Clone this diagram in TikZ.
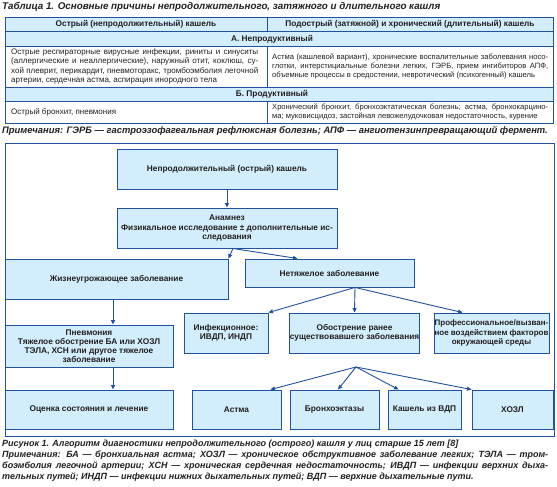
\documentclass[tikz,border=0pt]{standalone}
\usepackage{fontspec}
\setmainfont{Liberation Sans}
\usetikzlibrary{arrows.meta,calc}
\definecolor{bfill}{RGB}{210,237,251}
\definecolor{bline}{RGB}{32,82,160}
\definecolor{tcol}{RGB}{35,31,32}
\newcommand\ff{\fontsize{8}{9.2}\selectfont}
\newcommand\fr{\fontsize{7.6}{9.2}\selectfont}
\newcommand\fb{\fontsize{8.3}{9.2}\selectfont\bfseries}
\newcommand\fbs{\fontsize{8}{9.2}\selectfont\bfseries}
\newcommand\fc{\fontsize{9}{11}\selectfont\bfseries\itshape}
\newcommand\ft{\fontsize{9.8}{11}\selectfont\bfseries\itshape}
\newcommand\fn{\fontsize{9.4}{11}\selectfont\bfseries\itshape}
\newcommand\jl[2]{\makebox[#1][s]{#2}}
\begin{document}
\begin{tikzpicture}[x=1pt,y=-1pt,
  fbox/.style={draw=bline,fill=bfill,line width=0.9pt,inner sep=0pt,align=center,text=tcol,font=\fb},
  arr/.style={draw=bline,line width=0.9pt,-{Triangle[length=4.5pt,width=4pt]}},
  tline/.style={draw=bline,line width=0.8pt},
  ttext/.style={inner sep=0pt,text=tcol,font=\ff,align=left},
  thead/.style={inner sep=0pt,text=tcol,font=\fb},
  ctext/.style={inner sep=0pt,text=tcol,font=\fc,align=left}]
\useasboundingbox (0,0) rectangle (557,487);
\fill[white] (0,0) rectangle (557,487);
% ---------- table ----------
\node[ctext,font=\ft,anchor=west] (ttl) at (2,7) {Таблица 1. Основные причины непродолжительного, затяжного и длительного кашля};
\fill[bfill] (5,17) rectangle (553,46);
\fill[bfill] (5,87) rectangle (553,101);
\draw[tline] (5,17) rectangle (553,123);
\draw[tline] (5,31.5) -- (553,31.5) (5,46) -- (553,46) (5,87) -- (553,87) (5,101) -- (553,101);
\draw[tline] (267,17) -- (267,31.5) (267,46) -- (267,87) (267,101) -- (267,123);
\node[thead] (h1) at (136,24.2) {Острый (непродолжительный) кашель};
\node[thead] (h2) at (410,24.2) {Подострый (затяжной) и хронический (длительный) кашель};
\node[thead] (ra) at (272,38.8) {А. Непродуктивный};
\node[thead] (rb) at (272,94) {Б. Продуктивный};
\node[ttext,anchor=west] (ca1) at (11,66.5) {\jl{247pt}{Острые респираторные вирусные инфекции, риниты и синуситы}\\
\jl{247pt}{(аллергические и неаллергические), наружный отит, коклюш, су-}\\
\jl{247pt}{хой плеврит, перикардит, пневмоторакс, тромбоэмболия легочной}\\
артерии, сердечная астма, аспирация инородного тела};
\node[ttext,font=\fr,anchor=west] (ca2) at (272,66.5) {\jl{276pt}{Астма (кашлевой вариант), хронические воспалительные заболевания носо-}\\
\jl{276pt}{глотки, интерстициальные болезни легких, ГЭРБ, прием ингибиторов АПФ,}\\
объемные процессы в средостении, невротический (психогенный) кашель};
\node[ttext,anchor=west] (cb1) at (11,112) {Острый бронхит, пневмония};
\node[ttext,font=\fr,anchor=west] (cb2) at (272,112) {\jl{276pt}{Хронический бронхит, бронхоэктатическая болезнь; астма, бронхокарцино-}\\
ма; муковисцидоз, застойная левожелудочковая недостаточность, курение};
\node[ctext,font=\fn,anchor=west] (tnote) at (2,131) {Примечания: ГЭРБ — гастроэзофагеальная рефлюксная болезнь; АПФ — ангиотензинпревращающий фермент.};
% ---------- flowchart ----------
\draw[bline,line width=0.9pt] (5,143) rectangle (554,436);
\node[fbox,minimum width=220pt,minimum height=40pt] (b1) at (227,169) {Непродолжительный (острый) кашель};
\node[fbox,minimum width=220pt,minimum height=40pt] (b2) at (227,228) {Анамнез\\Физикальное исследование ± дополнительные ис-\\следования};
\node[fbox,minimum width=223pt,minimum height=40pt] (b3) at (116.5,279) {Жизнеугрожающее заболевание};
\node[fbox,minimum width=169pt,minimum height=28pt] (b4) at (329.5,273) {Нетяжелое заболевание};
\node[fbox,minimum width=168pt,minimum height=42pt] (b5) at (89,346) {Пневмония\\Тяжелое обострение БА или ХОЗЛ\\ТЭЛА, ХСН или другое тяжелое\\заболевание};
\node[fbox,minimum width=168pt,minimum height=39pt] (b6) at (89,409.5) {Оценка состояния и лечение};
\node[fbox,minimum width=84pt,minimum height=40pt] (b7) at (226,333) {Инфекционное:\\ИВДП, ИНДП};
\node[fbox,minimum width=127pt,minimum height=40pt] (b8) at (354.5,333) {Обострение ранее\\существовавшего заболевания};
\node[fbox,font=\fbs,minimum width=115pt,minimum height=40pt] (b9) at (491.5,333) {Профессиональное/вызван-\\ное воздействием факторов\\окружающей среды};
\node[fbox,minimum width=89pt,minimum height=39pt] (b10) at (236.5,409.5) {Астма};
\node[fbox,minimum width=89pt,minimum height=39pt] (b11) at (334.5,409.5) {Бронхоэктазы};
\node[fbox,minimum width=73pt,minimum height=39pt] (b12) at (424.5,409.5) {Кашель из ВДП};
\node[fbox,minimum width=81pt,minimum height=39pt] (b13) at (512.5,409.5) {ХОЗЛ};
% connectors
\coordinate (ax) at (113,0);
\coordinate (f1) at ($(b2.south)+(6,0)$);
\coordinate (f2) at ($(b4.south)+(25.5,0)$);
\coordinate (f3) at (356,367);
\draw[arr] (b1) -- (b2);
\draw[arr] (f1) -- (b3.north east);
\draw[arr] (f1) -- ($(b4.north west)+(53,0)$);
\draw[arr] (b3.south -| ax) -- (b5.north -| ax);
\draw[arr] (b5.south -| ax) -- (b6.north -| ax);
\draw[arr] (f2) -- (b7.north east);
\draw[arr] (f2) -- (b8.north);
\draw[arr] (f2) -- ($(b9.north west)+(29,0)$);
\draw[arr] (f3) -- ($(b10.north east)+(-11,0)$);
\draw[arr] (f3) -- ($(b11.north)+(3.5,0)$);
\draw[arr] (f3) -- ($(b12.north west)+(11,0)$);
\draw[arr] (f3) -- (b13.north west);
% caption
\node[ctext,anchor=north west] (cap) at (2,440) {Рисунок 1. Алгоритм диагностики непродолжительного (острого) кашля у лиц старше 15 лет [8]\\
\jl{546pt}{Примечания: БА — бронхиальная астма; ХОЗЛ — хроническое обструктивное заболевание легких; ТЭЛА — тром-}\\
\jl{546pt}{боэмболия легочной артерии; ХСН — хроническая сердечная недостаточность; ИВДП — инфекции верхних дыха-}\\
тельных путей; ИНДП — инфекции нижних дыхательных путей; ВДП — верхние дыхательные пути.};
\end{tikzpicture}
\end{document}
